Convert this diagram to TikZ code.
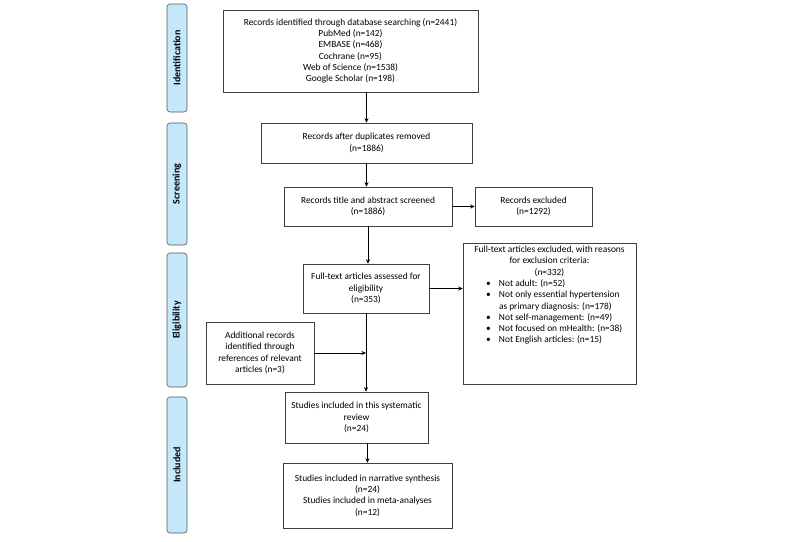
\documentclass[tikz,border=0pt]{standalone}
\usepackage{fontspec}
\setmainfont{Carlito}
\usetikzlibrary{arrows.meta}
\definecolor{phasefill}{RGB}{196,232,249}
\definecolor{phaseline}{RGB}{78,88,98}
\newcommand{\exitem}[1]{\par\hangindent=34pt\hangafter=1\noindent\hspace*{21pt}\makebox[13pt][l]{\textbullet}#1}
\begin{document}
\begin{tikzpicture}[x=1pt,y={(0pt,-1pt)}]
            \tikzstyle{box}=[draw=black!75,line width=.6pt,align=center,inner sep=1pt,font=\fontsize{9.4}{11.3}\selectfont]
            \tikzstyle{phase}=[draw=phaseline,fill=phasefill,line width=.6pt,rounded corners=3pt,rotate=90,minimum height=20pt,inner sep=1pt,font=\bfseries\fontsize{10}{11}\selectfont]
            \tikzstyle{flow}=[-{Stealth[length=4.5pt,width=4pt]},line width=.6pt]

            \useasboundingbox[fill=white] (0,0) rectangle (800,541);

            %phases
            \node[phase,minimum width=108pt] (pident) at (177,58) {Identification};
            \node[phase,minimum width=122pt] (pscreen) at (177,184) {Screening};
            \node[phase,minimum width=134pt] (pelig) at (177,320) {Eligibility};
            \node[phase,minimum width=136pt] (pincl) at (177,465) {Included};

            %identification
            \node[box,minimum width=255pt,minimum height=82pt] (ident) at (350.5,51) {Records identified through database searching (n=2441)\\PubMed (n=142)\\EMBASE (n=468)\\Cochrane (n=95)\\Web of Science (n=1538)\\Google Scholar (n=198)};

            %screening
            \node[box,minimum width=211pt,minimum height=40pt] (dup) at (366.5,143) {Records after duplicates removed\\(n=1886)};
            \node[box,minimum width=168pt,minimum height=39pt] (screen) at (368,206.5) {Records title and abstract screened\\(n=1886)};
            \node[box,minimum width=117pt,minimum height=39pt] (excl) at (533.5,206.5) {Records excluded\\(n=1292)};

            %eligibility
            \node[box,minimum width=126pt,minimum height=49pt] (full) at (366,288.5) {Full-text articles assessed for\\eligibility\\(n=353)};
            \node[box,minimum width=173pt,minimum height=141pt] (fullexcl) at (549.5,313.5) {\begin{minipage}[t][135pt][t]{169pt}
                \centering Full-text articles excluded, with reasons\\for exclusion criteria:\\(n=332)\par
                \raggedright
                \exitem{Not adult: (n=52)}
                \exitem{Not only essential hypertension\hfil\break as primary diagnosis: (n=178)}
                \exitem{Not self-management: (n=49)}
                \exitem{Not focused on mHealth: (n=38)}
                \exitem{Not English articles: (n=15)}
                \end{minipage}};
            \node[box,minimum width=108pt,minimum height=62pt] (addl) at (260,353) {Additional records\\identified through\\references of relevant\\articles (n=3)};

            %included
            \node[box,minimum width=143pt,minimum height=51pt] (incl) at (356.5,417.5) {Studies included in this systematic\\review\\(n=24)};
            \node[box,minimum width=169pt,minimum height=65pt] (synth) at (367.5,495.5) {Studies included in narrative synthesis\\(n=24)\\Studies included in meta-analyses\\(n=12)};

            %arrows
            \coordinate (join) at (full.south |- addl.east);
            \draw[flow] (ident.south -| dup.north) -- (dup.north);
            \draw[flow] (dup.south) -- (dup.south |- screen.north);
            \draw[flow] (screen.east) -- (excl.west);
            \draw[flow] (screen.south) -- (screen.south |- full.north);
            \draw[flow] (full.east) -- (full.east -| fullexcl.west);
            \draw[flow] (full.south) -- (full.south |- incl.north);
            \draw[flow] (addl.east) -- (join);
            \draw[flow] (incl.south -| synth.north) -- (synth.north);
\end{tikzpicture}
\end{document}
